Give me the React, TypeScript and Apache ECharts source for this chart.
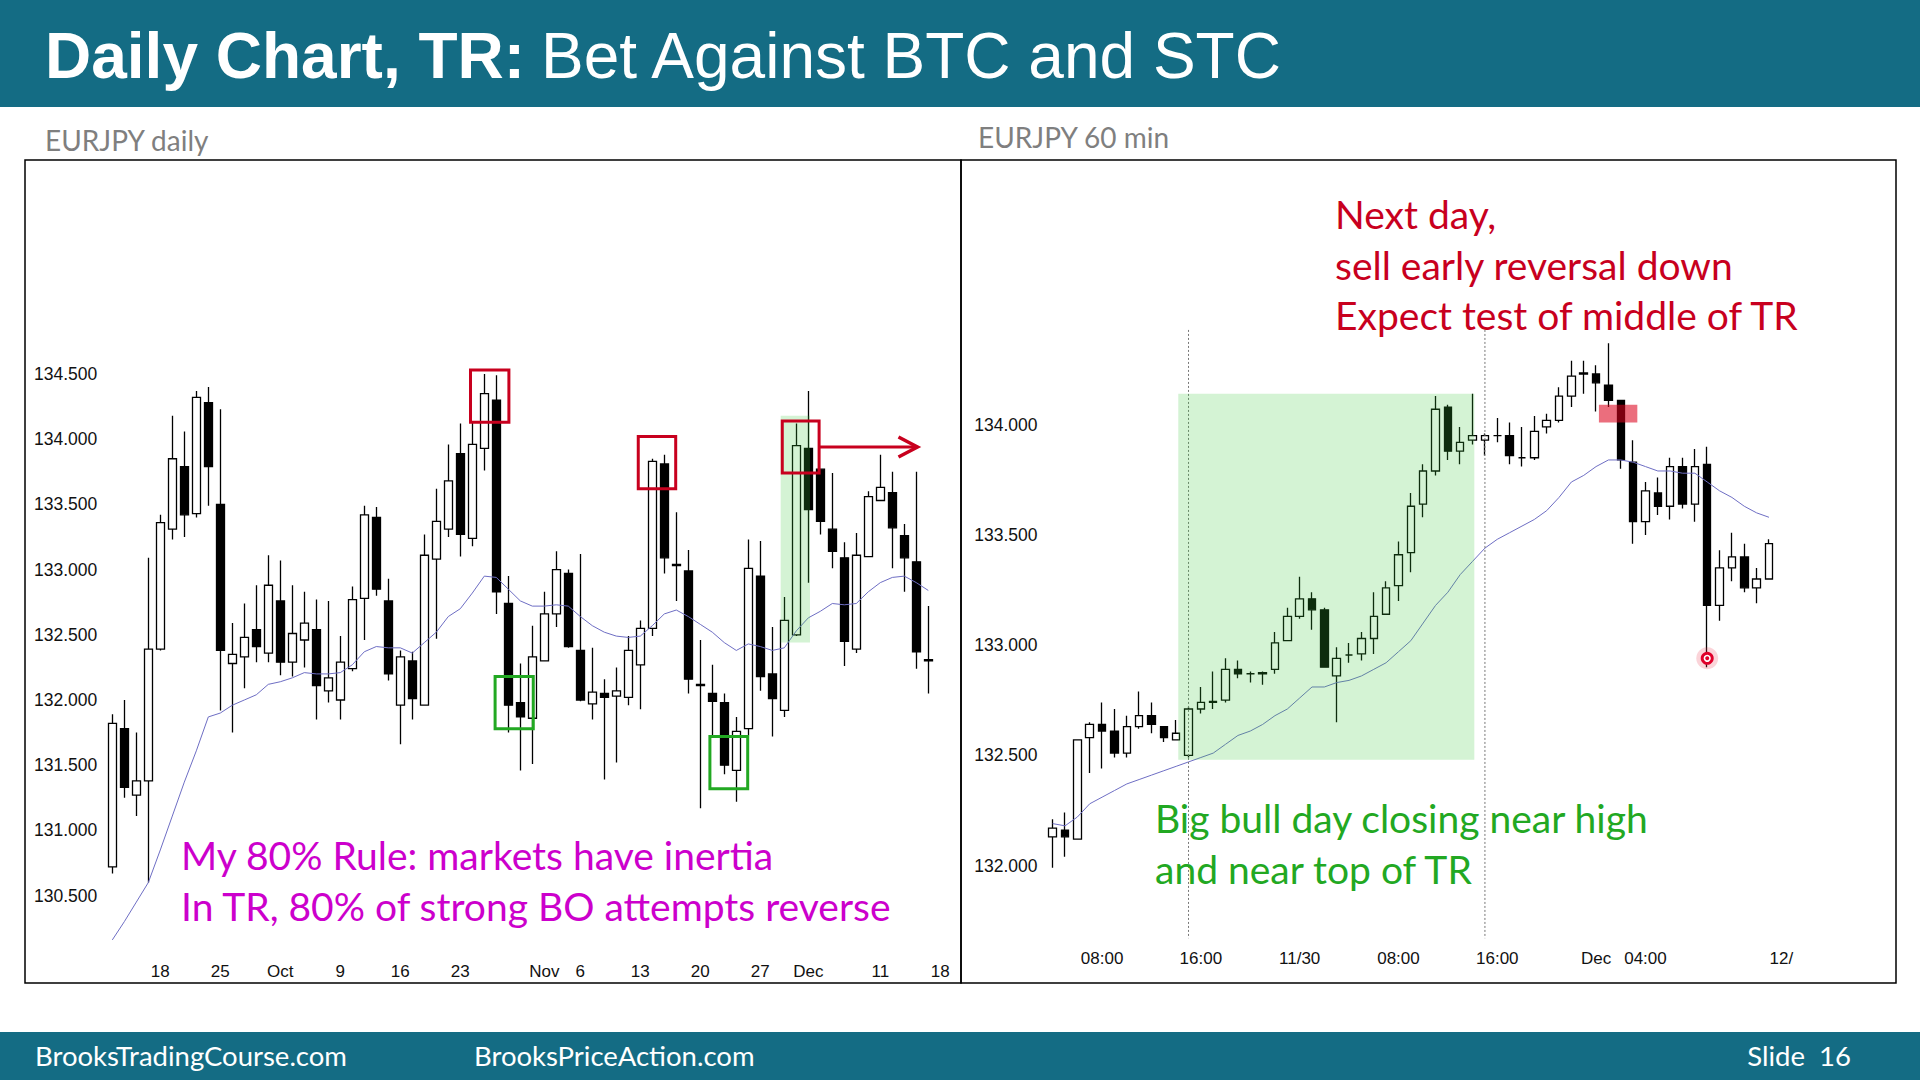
import React, { useEffect, useRef } from 'react';
import * as echarts from 'echarts';

// ---------- Daily chart (EURJPY daily) ----------
const DAILY_DATES = [
  '9/12', '9/13', '9/14', '9/15',
  '9/18', '9/19', '9/20', '9/21', '9/22',
  '9/25', '9/26', '9/27', '9/28', '9/29',
  '10/2', '10/3', '10/4', '10/5', '10/6',
  '10/9', '10/10', '10/11', '10/12', '10/13',
  '10/16', '10/17', '10/18', '10/19', '10/20',
  '10/23', '10/24', '10/25', '10/26', '10/27',
  '10/30', '10/31', '11/1', '11/2', '11/3',
  '11/6', '11/7', '11/8', '11/9', '11/10',
  '11/13', '11/14', '11/15', '11/16', '11/17',
  '11/20', '11/21', '11/22', '11/23', '11/24',
  '11/27', '11/28', '11/29', '11/30', '12/1',
  '12/4', '12/5', '12/6', '12/7', '12/8',
  '12/11', '12/12', '12/13', '12/14', '12/15',
  '12/18', '12/19',
];

const DAILY_TICKS: Record<string, string> = {
  '9/18': '18', '9/25': '25', '10/2': 'Oct', '10/9': '9', '10/16': '16', '10/23': '23',
  '11/1': 'Nov', '11/6': '6', '11/13': '13', '11/20': '20', '11/27': '27', '12/1': 'Dec',
  '12/11': '11', '12/18': '18',
};

// [open, high, low, close]
const DAILY_OHLC = [
  [130.72, 131.89, 130.67, 131.82],
  [131.78, 132.00, 131.25, 131.33],
  [131.27, 131.75, 131.11, 131.38],
  [131.38, 133.09, 130.60, 132.39],
  [132.39, 133.42, 132.38, 133.36],
  [133.31, 134.18, 133.23, 133.85],
  [133.79, 134.06, 133.25, 133.42],
  [133.43, 134.37, 133.40, 134.32],
  [134.28, 134.40, 133.49, 133.79],
  [133.50, 134.23, 131.92, 132.38],
  [132.28, 132.59, 131.75, 132.35],
  [132.33, 132.74, 132.09, 132.48],
  [132.54, 132.88, 132.29, 132.41],
  [132.36, 133.11, 132.29, 132.88],
  [132.76, 133.07, 132.19, 132.29],
  [132.29, 132.88, 132.18, 132.51],
  [132.46, 132.83, 132.25, 132.59],
  [132.54, 132.77, 131.85, 132.11],
  [132.07, 132.76, 131.98, 132.17],
  [132.00, 132.49, 131.85, 132.29],
  [132.24, 132.87, 132.22, 132.77],
  [132.78, 133.49, 132.46, 133.42],
  [133.40, 133.48, 132.80, 132.85],
  [132.76, 132.93, 132.15, 132.20],
  [131.96, 132.38, 131.66, 132.33],
  [132.30, 132.37, 131.85, 132.01],
  [131.96, 133.27, 131.96, 133.11],
  [133.08, 133.62, 132.47, 133.37],
  [133.31, 133.96, 133.25, 133.68],
  [133.89, 134.12, 133.10, 133.27],
  [133.24, 134.14, 133.18, 133.96],
  [133.93, 134.50, 133.76, 134.35],
  [134.30, 134.49, 132.66, 132.83],
  [132.74, 132.95, 131.75, 131.96],
  [131.98, 132.28, 131.46, 131.87],
  [131.86, 132.57, 131.51, 132.33],
  [132.30, 132.83, 132.30, 132.66],
  [132.66, 133.14, 132.56, 133.00],
  [132.97, 133.00, 132.40, 132.41],
  [132.38, 133.12, 131.99, 132.00],
  [131.97, 132.40, 131.85, 132.06],
  [132.05, 132.16, 131.39, 132.02],
  [132.03, 132.25, 131.52, 132.07],
  [132.02, 132.49, 131.96, 132.38],
  [132.27, 132.61, 131.93, 132.55],
  [132.55, 133.85, 132.49, 133.83],
  [133.81, 133.88, 132.97, 133.09],
  [133.04, 133.44, 132.76, 133.03],
  [132.99, 133.15, 132.05, 132.16],
  [132.12, 132.46, 131.17, 132.11],
  [132.05, 132.27, 131.72, 131.99],
  [131.98, 132.05, 131.43, 131.50],
  [131.46, 131.87, 131.22, 131.76],
  [131.78, 133.23, 131.73, 133.01],
  [132.95, 133.22, 132.07, 132.18],
  [132.20, 132.56, 131.72, 132.01],
  [131.92, 132.79, 131.87, 132.61],
  [132.50, 134.12, 132.49, 133.95],
  [133.93, 134.37, 132.90, 133.46],
  [133.77, 133.77, 133.27, 133.37],
  [133.31, 133.74, 133.01, 133.14],
  [133.09, 133.21, 132.26, 132.45],
  [132.39, 133.28, 132.36, 133.11],
  [133.10, 133.60, 133.10, 133.56],
  [133.53, 133.88, 133.53, 133.63],
  [133.59, 133.75, 133.01, 133.32],
  [133.26, 133.35, 132.83, 133.09],
  [133.06, 133.75, 132.24, 132.37],
  [132.31, 132.72, 132.05, 132.30],
];

const DAILY_EMA = [
  130.16, 130.30, 130.45, 130.60, 130.85, 131.11, 131.37, 131.61, 131.87, 131.90,
  131.96, 132.00, 132.04, 132.12, 132.14, 132.17, 132.21, 132.20, 132.20, 132.21,
  132.27, 132.37, 132.41, 132.40, 132.40, 132.36, 132.44, 132.52, 132.64, 132.70,
  132.82, 132.95, 132.94, 132.85, 132.76, 132.72, 132.72, 132.73, 132.72, 132.64,
  132.57, 132.52, 132.49, 132.48, 132.49, 132.57, 132.66, 132.69, 132.64, 132.58,
  132.52, 132.44, 132.38, 132.43, 132.41, 132.38, 132.40, 132.53, 132.63, 132.68,
  132.74, 132.73, 132.74, 132.83, 132.90, 132.94, 132.95, 132.90, 132.84,
];

const DAILY_Y_LABELS = [130.5, 131, 131.5, 132, 132.5, 133, 133.5, 134, 134.5];

// annotations, in data units: [fromIndex, toIndex, topPrice, bottomPrice]
const DAILY_RED_BOXES = [
  [29.85, 33.05, 134.53, 134.13],
  [43.83, 46.95, 134.02, 133.62],
  [55.83, 58.9, 134.14, 133.74],
];
const DAILY_GREEN_BOXES = [
  [31.9, 35.08, 132.18, 131.78],
  [49.8, 52.95, 131.72, 131.32],
];
const DAILY_GREEN_ZONE = [55.7, 58.14, 134.18, 132.44];
const DAILY_ARROW = [58.9, 67.1, 133.94]; // fromIndex, toIndex, price

// ---------- 60 min chart ----------
const HOURLY_TIMES = [
  '11/29 04:00', '11/29 05:00', '11/29 06:00', '11/29 07:00', '11/29 08:00', '11/29 09:00',
  '11/29 10:00', '11/29 11:00', '11/29 12:00', '11/29 13:00', '11/29 14:00', '11/29 15:00',
  '11/29 16:00', '11/29 17:00', '11/29 18:00', '11/29 19:00', '11/29 20:00', '11/29 21:00',
  '11/29 22:00', '11/29 23:00',
  '11/30 00:00', '11/30 01:00', '11/30 02:00', '11/30 03:00', '11/30 04:00', '11/30 05:00',
  '11/30 06:00', '11/30 07:00', '11/30 08:00', '11/30 09:00', '11/30 10:00', '11/30 11:00',
  '11/30 12:00', '11/30 13:00', '11/30 14:00', '11/30 15:00', '11/30 16:00', '11/30 17:00',
  '11/30 18:00', '11/30 19:00', '11/30 20:00', '11/30 21:00', '11/30 22:00', '11/30 23:00',
  '12/1 00:00', '12/1 01:00', '12/1 02:00', '12/1 03:00', '12/1 04:00', '12/1 05:00',
  '12/1 06:00', '12/1 07:00', '12/1 08:00', '12/1 09:00', '12/1 10:00', '12/1 11:00',
  '12/1 12:00', '12/1 13:00', '12/1 14:00', '12/1 15:00',
];

const HOURLY_TICKS: Record<string, string> = {
  '11/29 08:00': '08:00', '11/29 16:00': '16:00', '11/30 00:00': '11/30',
  '11/30 08:00': '08:00', '11/30 16:00': '16:00', '12/1 00:00': 'Dec',
  '12/1 04:00': '04:00', '12/1 15:00': '12/',
};

// [open, high, low, close]
const HOURLY_OHLC = [
  [132.13, 132.21, 131.99, 132.17],
  [132.16, 132.24, 132.04, 132.13],
  [132.12, 132.57, 132.12, 132.57],
  [132.58, 132.65, 132.42, 132.64],
  [132.64, 132.74, 132.44, 132.61],
  [132.61, 132.71, 132.49, 132.51],
  [132.51, 132.68, 132.49, 132.63],
  [132.63, 132.79, 132.62, 132.68],
  [132.68, 132.74, 132.60, 132.64],
  [132.63, 132.63, 132.56, 132.58],
  [132.57, 132.66, 132.57, 132.60],
  [132.50, 132.72, 132.49, 132.71],
  [132.71, 132.81, 132.69, 132.74],
  [132.74, 132.88, 132.71, 132.745],
  [132.75, 132.94, 132.74, 132.89],
  [132.89, 132.93, 132.85, 132.87],
  [132.87, 132.88, 132.83, 132.87],
  [132.87, 132.88, 132.82, 132.875],
  [132.89, 133.06, 132.87, 133.01],
  [133.02, 133.17, 133.02, 133.13],
  [133.13, 133.31, 133.12, 133.21],
  [133.21, 133.24, 133.07, 133.16],
  [133.16, 133.17, 132.90, 132.90],
  [132.86, 132.99, 132.65, 132.94],
  [132.955, 133.01, 132.92, 132.955],
  [132.96, 133.06, 132.93, 133.03],
  [133.03, 133.24, 132.96, 133.13],
  [133.14, 133.29, 133.14, 133.26],
  [133.27, 133.47, 133.20, 133.41],
  [133.42, 133.69, 133.33, 133.63],
  [133.64, 133.82, 133.58, 133.79],
  [133.79, 134.13, 133.77, 134.07],
  [134.08, 134.09, 133.84, 133.88],
  [133.88, 133.99, 133.82, 133.92],
  [133.93, 134.14, 133.91, 133.95],
  [133.93, 133.96, 133.86, 133.95],
  [133.95, 134.03, 133.92, 133.95],
  [133.95, 134.01, 133.82, 133.86],
  [133.85, 133.99, 133.81, 133.85],
  [133.85, 134.04, 133.84, 133.97],
  [133.99, 134.05, 133.96, 134.02],
  [134.02, 134.17, 134.01, 134.13],
  [134.13, 134.29, 134.08, 134.22],
  [134.23, 134.29, 134.14, 134.235],
  [134.23, 134.27, 134.06, 134.19],
  [134.18, 134.37, 134.08, 134.11],
  [134.11, 134.11, 133.80, 133.84],
  [133.83, 133.93, 133.46, 133.56],
  [133.56, 133.74, 133.50, 133.70],
  [133.69, 133.76, 133.59, 133.63],
  [133.63, 133.85, 133.57, 133.81],
  [133.81, 133.85, 133.62, 133.64],
  [133.64, 133.89, 133.56, 133.81],
  [133.82, 133.90, 132.90, 133.18],
  [133.18, 133.43, 133.11, 133.35],
  [133.35, 133.51, 133.29, 133.40],
  [133.40, 133.46, 133.24, 133.26],
  [133.26, 133.35, 133.19, 133.30],
  [133.30, 133.48, 133.30, 133.46],
];

const HOURLY_EMA = [
  132.19, 132.18, 132.22, 132.28, 132.31, 132.34, 132.37, 132.39, 132.41, 132.43,
  132.45, 132.47, 132.49, 132.51, 132.55, 132.59, 132.61, 132.64, 132.68, 132.71,
  132.76, 132.81, 132.81, 132.83, 132.84, 132.86, 132.89, 132.92, 132.97, 133.02,
  133.10, 133.18, 133.24, 133.32, 133.38, 133.44, 133.48, 133.51, 133.54, 133.57,
  133.61, 133.67, 133.74, 133.77, 133.81, 133.84, 133.84, 133.83, 133.81, 133.79,
  133.79, 133.78, 133.78, 133.74, 133.70, 133.67, 133.63, 133.60, 133.58,
];

const HOURLY_Y_LABELS = [132, 132.5, 133, 133.5, 134];

const HOURLY_GREEN_ZONE = [10.17, 34.14, 134.14, 132.48];
const HOURLY_SELL_ZONE = [44.23, 47.34, 134.09, 134.01];
const HOURLY_DAY_LINES = [11, 35];
const HOURLY_DAY_LINE_RANGE = [134.43, 131.67];
const HOURLY_LOW_DOT = [53, 132.94];

// ---------- helpers ----------
const toCandle = (rows: number[][]) => rows.map(([o, h, l, c]) => [o, c, l, h]);
const hasLabel = (list: number[], v: number) => list.some((t) => Math.abs(t - v) < 1e-6);

// category axis rounds fractional indices, so interpolate between neighbours
const pt = (api: any, xi: number, y: number) => {
  const i0 = Math.floor(xi);
  const f = xi - i0;
  const a = api.coord([i0, y]);
  const b = api.coord([i0 + 1, y]);
  return [a[0] + (b[0] - a[0]) * f, a[1]];
};
const rectFrom = (api: any, r: number[]) => {
  const a = pt(api, r[0], r[2]);
  const b = pt(api, r[1], r[3]);
  return { x: a[0], y: a[1], width: b[0] - a[0], height: b[1] - a[1] };
};

const RED = '#c8001e';
const GREEN = '#22a822';
const MAGENTA = '#cc00cc';
const TEAL = '#146c84';
const EMA_COLOR = '#6e6ec4';
const AXIS_FONT = '"Liberation Sans", Arial, sans-serif';
const NOTE_FONT = 'Lato, "Open Sans", sans-serif';

const candleStyle = {
  color: '#ffffff',
  color0: '#000000',
  borderColor: '#000000',
  borderColor0: '#000000',
  borderWidth: 1.3,
};

export default function App() {
  const ref = useRef<HTMLDivElement>(null);

  useEffect(() => {
    if (!ref.current) return;
    const chart = echarts.init(ref.current, undefined, { renderer: 'svg' });

    const text = (x: number, y: number, t: string, font: string, fill: string, align = 'left') => ({
      type: 'text',
      x,
      y,
      z: 50,
      style: { text: t, font, fill, align, verticalAlign: 'middle' },
    });

    const option: any = {
      animation: false,
      backgroundColor: '#ffffff',
      grid: [
        { left: 106.3, top: 178.4, width: 852, height: 782.4 },
        { left: 1046.5, top: 204.3, width: 741, height: 771.4 },
      ],
      xAxis: [
        {
          type: 'category',
          gridIndex: 0,
          data: DAILY_DATES,
          boundaryGap: true,
          axisLine: { show: false },
          axisTick: { show: false },
          splitLine: { show: false },
          axisLabel: {
            interval: (_i: number, v: string) => v in DAILY_TICKS,
            formatter: (v: string) => DAILY_TICKS[v] ?? '',
            margin: 2,
            fontSize: 17,
            fontFamily: AXIS_FONT,
            color: '#111',
          },
        },
        {
          type: 'category',
          gridIndex: 1,
          data: HOURLY_TIMES,
          boundaryGap: true,
          axisLine: { show: false },
          axisTick: { show: false },
          splitLine: { show: false },
          axisLabel: {
            inside: true,
            interval: (_i: number, v: string) => v in HOURLY_TICKS,
            formatter: (v: string) => HOURLY_TICKS[v] ?? '',
            margin: 9,
            fontSize: 17,
            fontFamily: AXIS_FONT,
            color: '#111',
          },
        },
      ],
      yAxis: [
        {
          type: 'value',
          gridIndex: 0,
          min: 130,
          max: 136,
          interval: 0.5,
          axisLine: { show: false },
          axisTick: { show: false },
          splitLine: { show: false },
          axisLabel: {
            formatter: (v: number) => (hasLabel(DAILY_Y_LABELS, v) ? v.toFixed(3) : ''),
            margin: 9,
            fontSize: 17.5,
            fontFamily: AXIS_FONT,
            color: '#111',
          },
        },
        {
          type: 'value',
          gridIndex: 1,
          min: 131.5,
          max: 135,
          interval: 0.5,
          axisLine: { show: false },
          axisTick: { show: false },
          splitLine: { show: false },
          axisLabel: {
            formatter: (v: number) => (hasLabel(HOURLY_Y_LABELS, v) ? v.toFixed(3) : ''),
            margin: 9,
            fontSize: 17.5,
            fontFamily: AXIS_FONT,
            color: '#111',
          },
        },
      ],
      series: [
        {
          type: 'candlestick',
          xAxisIndex: 0,
          yAxisIndex: 0,
          data: toCandle(DAILY_OHLC),
          barWidth: 8,
          itemStyle: candleStyle,
          silent: true,
        },
        {
          type: 'line',
          xAxisIndex: 0,
          yAxisIndex: 0,
          data: DAILY_EMA,
          symbol: 'none',
          lineStyle: { color: EMA_COLOR, width: 1 },
          silent: true,
          z: 3,
        },
        {
          type: 'custom',
          xAxisIndex: 0,
          yAxisIndex: 0,
          data: [[0, 133]],
          z: 10,
          silent: true,
          renderItem: (_p: any, api: any) => {
            const children: any[] = [];
            children.push({
              type: 'rect',
              shape: rectFrom(api, DAILY_GREEN_ZONE),
              style: { fill: 'rgba(60,200,60,0.22)' },
            });
            DAILY_RED_BOXES.forEach((r) =>
              children.push({ type: 'rect', shape: rectFrom(api, r), style: { fill: 'none', stroke: RED, lineWidth: 3 } })
            );
            DAILY_GREEN_BOXES.forEach((r) =>
              children.push({ type: 'rect', shape: rectFrom(api, r), style: { fill: 'none', stroke: GREEN, lineWidth: 3 } })
            );
            const a = pt(api, DAILY_ARROW[0], DAILY_ARROW[2]);
            const b = pt(api, DAILY_ARROW[1], DAILY_ARROW[2]);
            children.push({
              type: 'line',
              shape: { x1: a[0], y1: a[1], x2: b[0] - 1, y2: b[1] },
              style: { stroke: RED, lineWidth: 3 },
            });
            children.push({
              type: 'polyline',
              shape: { points: [[b[0] - 19, b[1] - 10], [b[0], b[1]], [b[0] - 19, b[1] + 10]] },
              style: { fill: 'none', stroke: RED, lineWidth: 3.5 },
            });
            return { type: 'group', children };
          },
        },
        {
          type: 'candlestick',
          xAxisIndex: 1,
          yAxisIndex: 1,
          data: toCandle(HOURLY_OHLC),
          barWidth: 8,
          itemStyle: candleStyle,
          silent: true,
        },
        {
          type: 'line',
          xAxisIndex: 1,
          yAxisIndex: 1,
          data: HOURLY_EMA,
          symbol: 'none',
          lineStyle: { color: EMA_COLOR, width: 1 },
          silent: true,
          z: 3,
        },
        {
          type: 'custom',
          xAxisIndex: 1,
          yAxisIndex: 1,
          data: [[0, 133]],
          z: 10,
          silent: true,
          renderItem: (_p: any, api: any) => {
            const children: any[] = [];
            HOURLY_DAY_LINES.forEach((i) => {
              const t = api.coord([i, HOURLY_DAY_LINE_RANGE[0]]);
              const btm = api.coord([i, HOURLY_DAY_LINE_RANGE[1]]);
              children.push({
                type: 'line',
                shape: { x1: t[0], y1: t[1], x2: btm[0], y2: btm[1] },
                style: { stroke: '#777', lineWidth: 1, lineDash: [2, 2] },
              });
            });
            children.push({
              type: 'rect',
              shape: rectFrom(api, HOURLY_GREEN_ZONE),
              style: { fill: 'rgba(60,200,60,0.22)' },
            });
            children.push({
              type: 'rect',
              shape: rectFrom(api, HOURLY_SELL_ZONE),
              style: { fill: 'rgba(220,0,26,0.57)' },
            });
            const d = api.coord(HOURLY_LOW_DOT);
            children.push({ type: 'circle', shape: { cx: d[0], cy: d[1], r: 11 }, style: { fill: 'rgba(235,60,80,0.22)' } });
            children.push({ type: 'circle', shape: { cx: d[0], cy: d[1], r: 6.5 }, style: { fill: '#e0002a' } });
            children.push({
              type: 'circle',
              shape: { cx: d[0], cy: d[1], r: 2.8 },
              style: { fill: '#e0002a', stroke: '#ffffff', lineWidth: 1.6 },
            });
            return { type: 'group', children };
          },
        },
      ],
      graphic: [
        { type: 'rect', shape: { x: 0, y: 0, width: 1920, height: 107 }, style: { fill: TEAL } },
        { type: 'rect', shape: { x: 0, y: 1032, width: 1920, height: 48 }, style: { fill: TEAL } },
        text(45, 56, 'Daily Chart, TR:', `bold 64px ${AXIS_FONT}`, '#ffffff'),
        text(541, 56, 'Bet Against BTC and STC', `64px ${AXIS_FONT}`, '#ffffff'),
        text(45, 140, 'EURJPY daily', `28px ${NOTE_FONT}`, '#7f7f7f'),
        text(978, 137, 'EURJPY 60 min', `28px ${NOTE_FONT}`, '#7f7f7f'),
        {
          type: 'rect',
          shape: { x: 25, y: 160, width: 936, height: 823 },
          style: { fill: 'none', stroke: '#000', lineWidth: 1.5 },
          z: 40,
        },
        {
          type: 'rect',
          shape: { x: 961, y: 160, width: 935, height: 823 },
          style: { fill: 'none', stroke: '#000', lineWidth: 1.5 },
          z: 40,
        },
        text(181, 855, 'My 80% Rule: markets have inertia', `39px ${NOTE_FONT}`, MAGENTA),
        text(181, 906, 'In TR, 80% of strong BO attempts reverse', `39px ${NOTE_FONT}`, MAGENTA),
        text(1155, 818, 'Big bull day closing near high', `39px ${NOTE_FONT}`, GREEN),
        text(1155, 869, 'and near top of TR', `39px ${NOTE_FONT}`, GREEN),
        text(1335, 214, 'Next day,', `39px ${NOTE_FONT}`, RED),
        text(1335, 264.5, 'sell early reversal down', `39px ${NOTE_FONT}`, RED),
        text(1335, 315, 'Expect test of middle of TR', `39px ${NOTE_FONT}`, RED),
        text(35, 1055, 'BrooksTradingCourse.com', `27.5px ${NOTE_FONT}`, '#ffffff'),
        text(474, 1055, 'BrooksPriceAction.com', `27.5px ${NOTE_FONT}`, '#ffffff'),
        text(1851, 1055, 'Slide  16', `27.5px ${NOTE_FONT}`, '#ffffff', 'right'),
      ],
    };

    chart.setOption(option);
    return () => chart.dispose();
  }, []);

  return (
    <div
      ref={ref}
      style={{ position: 'fixed', left: 0, top: 0, width: 1920, height: 1080, background: '#fff' }}
    />
  );
}
